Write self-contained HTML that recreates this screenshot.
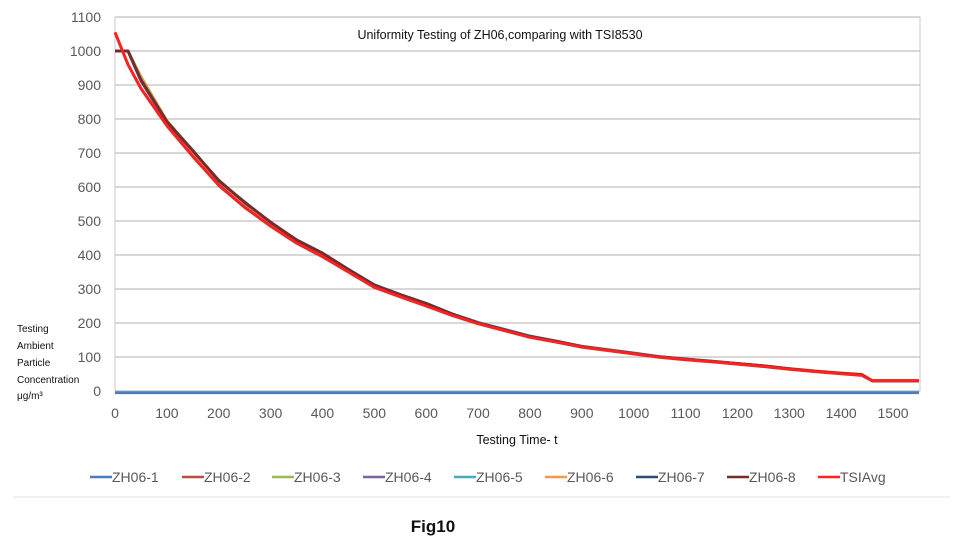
<!DOCTYPE html>
<html><head><meta charset="utf-8"><style>
body{margin:0;background:#fff;width:961px;height:555px;overflow:hidden;font-family:"Liberation Sans",sans-serif}
</style></head><body>
<svg width="961" height="555" style="position:absolute;left:0;top:0">
<line x1="13" y1="497" x2="950" y2="497" stroke="#e6e6e6"/>
<g id="grid"></g>
<g id="axes"></g>
<g id="series"></g>
<text x="500" y="39" font-size="12.5" text-anchor="middle" fill="#111">Uniformity Testing of ZH06,comparing with TSI8530</text>
<text x="517" y="444" font-size="12.5" text-anchor="middle" fill="#111">Testing Time- t</text>
<g font-size="10" fill="#111">
<text x="17" y="332">Testing</text><text x="17" y="349">Ambient</text><text x="17" y="366">Particle</text><text x="17" y="383">Concentration</text><text x="17" y="399">μg/m³</text></g>
<g id="legend"></g>
<text x="433" y="532" font-size="17" font-weight="bold" text-anchor="middle" fill="#111">Fig10</text>
</svg>
<script>
const xTicks=[0,100,200,300,400,500,600,700,800,900,1000,1100,1200,1300,1400,1500];
const yTicks=[0,100,200,300,400,500,600,700,800,900,1000,1100];
const seriesNames=["ZH06-1","ZH06-2","ZH06-3","ZH06-4","ZH06-5","ZH06-6","ZH06-7","ZH06-8","TSIAvg"];
const seriesColors=["#4a7ebb","#be4b48","#98b954","#7d60a0","#46aac5","#f79646","#2c4d75","#772c2a","#ff2020"];
const times=[0,25,50,100,150,200,250,300,350,400,450,500,550,600,650,700,750,800,850,900,950,1000,1050,1100,1150,1200,1250,1300,1350,1400,1440,1460,1550];
const zh1=[-5,-5,-5,-5,-5,-5,-5,-5,-5,-5,-5,-5,-5,-5,-5,-5,-5,-5,-5,-5,-5,-5,-5,-5,-5,-5,-5,-5,-5,-5,-5,-5,-5];
const zh2=[1000,1000,915,790,700,615,550,490,440,400,355,310,280,255,225,200,180,160,145,130,120,110,100,93,87,80,73,65,58,52,47,30,30];
const zh3=[1000,1000,925,795,705,620,553,493,442,402,357,312,282,256,226,201,181,161,146,131,121,111,101,94,88,81,74,66,59,53,48,30,30];
const zh4=[1000,1000,912,788,702,612,548,488,441,401,356,309,279,254,224,199,179,159,145,130,120,110,100,93,87,80,73,65,58,52,47,30,30];
const zh5=[1000,1000,918,792,704,618,551,492,444,404,358,313,283,257,227,202,182,162,147,132,122,112,101,94,87,80,73,65,58,52,47,30,30];
const zh6=[1000,1000,920,795,703,617,552,494,443,403,357,311,281,255,225,201,180,160,146,131,121,111,100,93,88,81,74,66,59,53,49,31,31];
const zh7=[1000,1000,914,793,708,618,556,496,445,406,358,312,284,258,227,201,181,161,147,131,121,111,101,94,88,81,74,66,58,52,48,30,30];
const zh8=[1000,1000,916,792,706,620,554,497,444,405,357,311,283,257,226,200,180,160,146,131,120,110,100,93,87,81,74,65,58,52,48,30,30];
const tsi=[1055,960,890,780,690,605,540,485,435,395,350,305,277,250,222,198,178,158,144,129,119,109,99,92,86,79,72,64,57,51,46,30,30];
const seriesValues=[zh1,zh2,zh3,zh4,zh5,zh6,zh7,zh8,tsi];

const X0=115,X1=920,XMAX=1552,Y0=391,Y1=17,YMAX=1100;
const xs=v=>X0+(X1-X0)*v/XMAX, ys=v=>Y0-(Y0-Y1)*v/YMAX;
const NS="http://www.w3.org/2000/svg";
function mk(t,a,p){const e=document.createElementNS(NS,t);for(const k in a)e.setAttribute(k,a[k]);p.appendChild(e);return e;}
const grid=document.getElementById('grid'),axes=document.getElementById('axes'),ser=document.getElementById('series'),leg=document.getElementById('legend');
mk('line',{x1:X0,y1:Y1,x2:X0,y2:Y0,stroke:'#c8c8c8'},grid);
mk('line',{x1:X1,y1:Y1,x2:X1,y2:Y0,stroke:'#c8c8c8'},grid);
yTicks.forEach(v=>{
 const l=mk('line',{x1:X0,y1:ys(v),x2:X1,y2:ys(v),stroke:'#c0c0c0','stroke-width':1.3},grid);
 
 
 const t=mk('text',{x:X0-14,y:ys(v)+5,'font-size':14,'text-anchor':'end',fill:'#595959'},axes);
 t.textContent=v;
 
 
});
xTicks.forEach(v=>{
 const t=mk('text',{x:xs(v),y:418,'font-size':14,'text-anchor':'middle',fill:'#595959'},axes);
 t.textContent=v;
 
 
});
seriesValues.forEach((vals,i)=>{
 let d=times.map((t,j)=>(j?'L':'M')+xs(t).toFixed(1)+','+ys(vals[j]).toFixed(1)).join(' ');
 const p=mk('path',{d:d,fill:'none',stroke:seriesColors[i],'stroke-width':i==8?3:2.8,'stroke-linejoin':'round'},ser);
 
 
});
const legX=[90,182,272,363,454,545,636,727,818];
seriesNames.forEach((n,i)=>{
 const g=mk('g',{},leg);
 
 
 mk('line',{x1:legX[i],y1:477,x2:legX[i]+22,y2:477,stroke:seriesColors[i],'stroke-width':2.5},g);
 const t=mk('text',{x:legX[i]+22,y:482,'font-size':14,fill:'#595959'},g);
 t.textContent=n;
});
</script>
</body></html>
